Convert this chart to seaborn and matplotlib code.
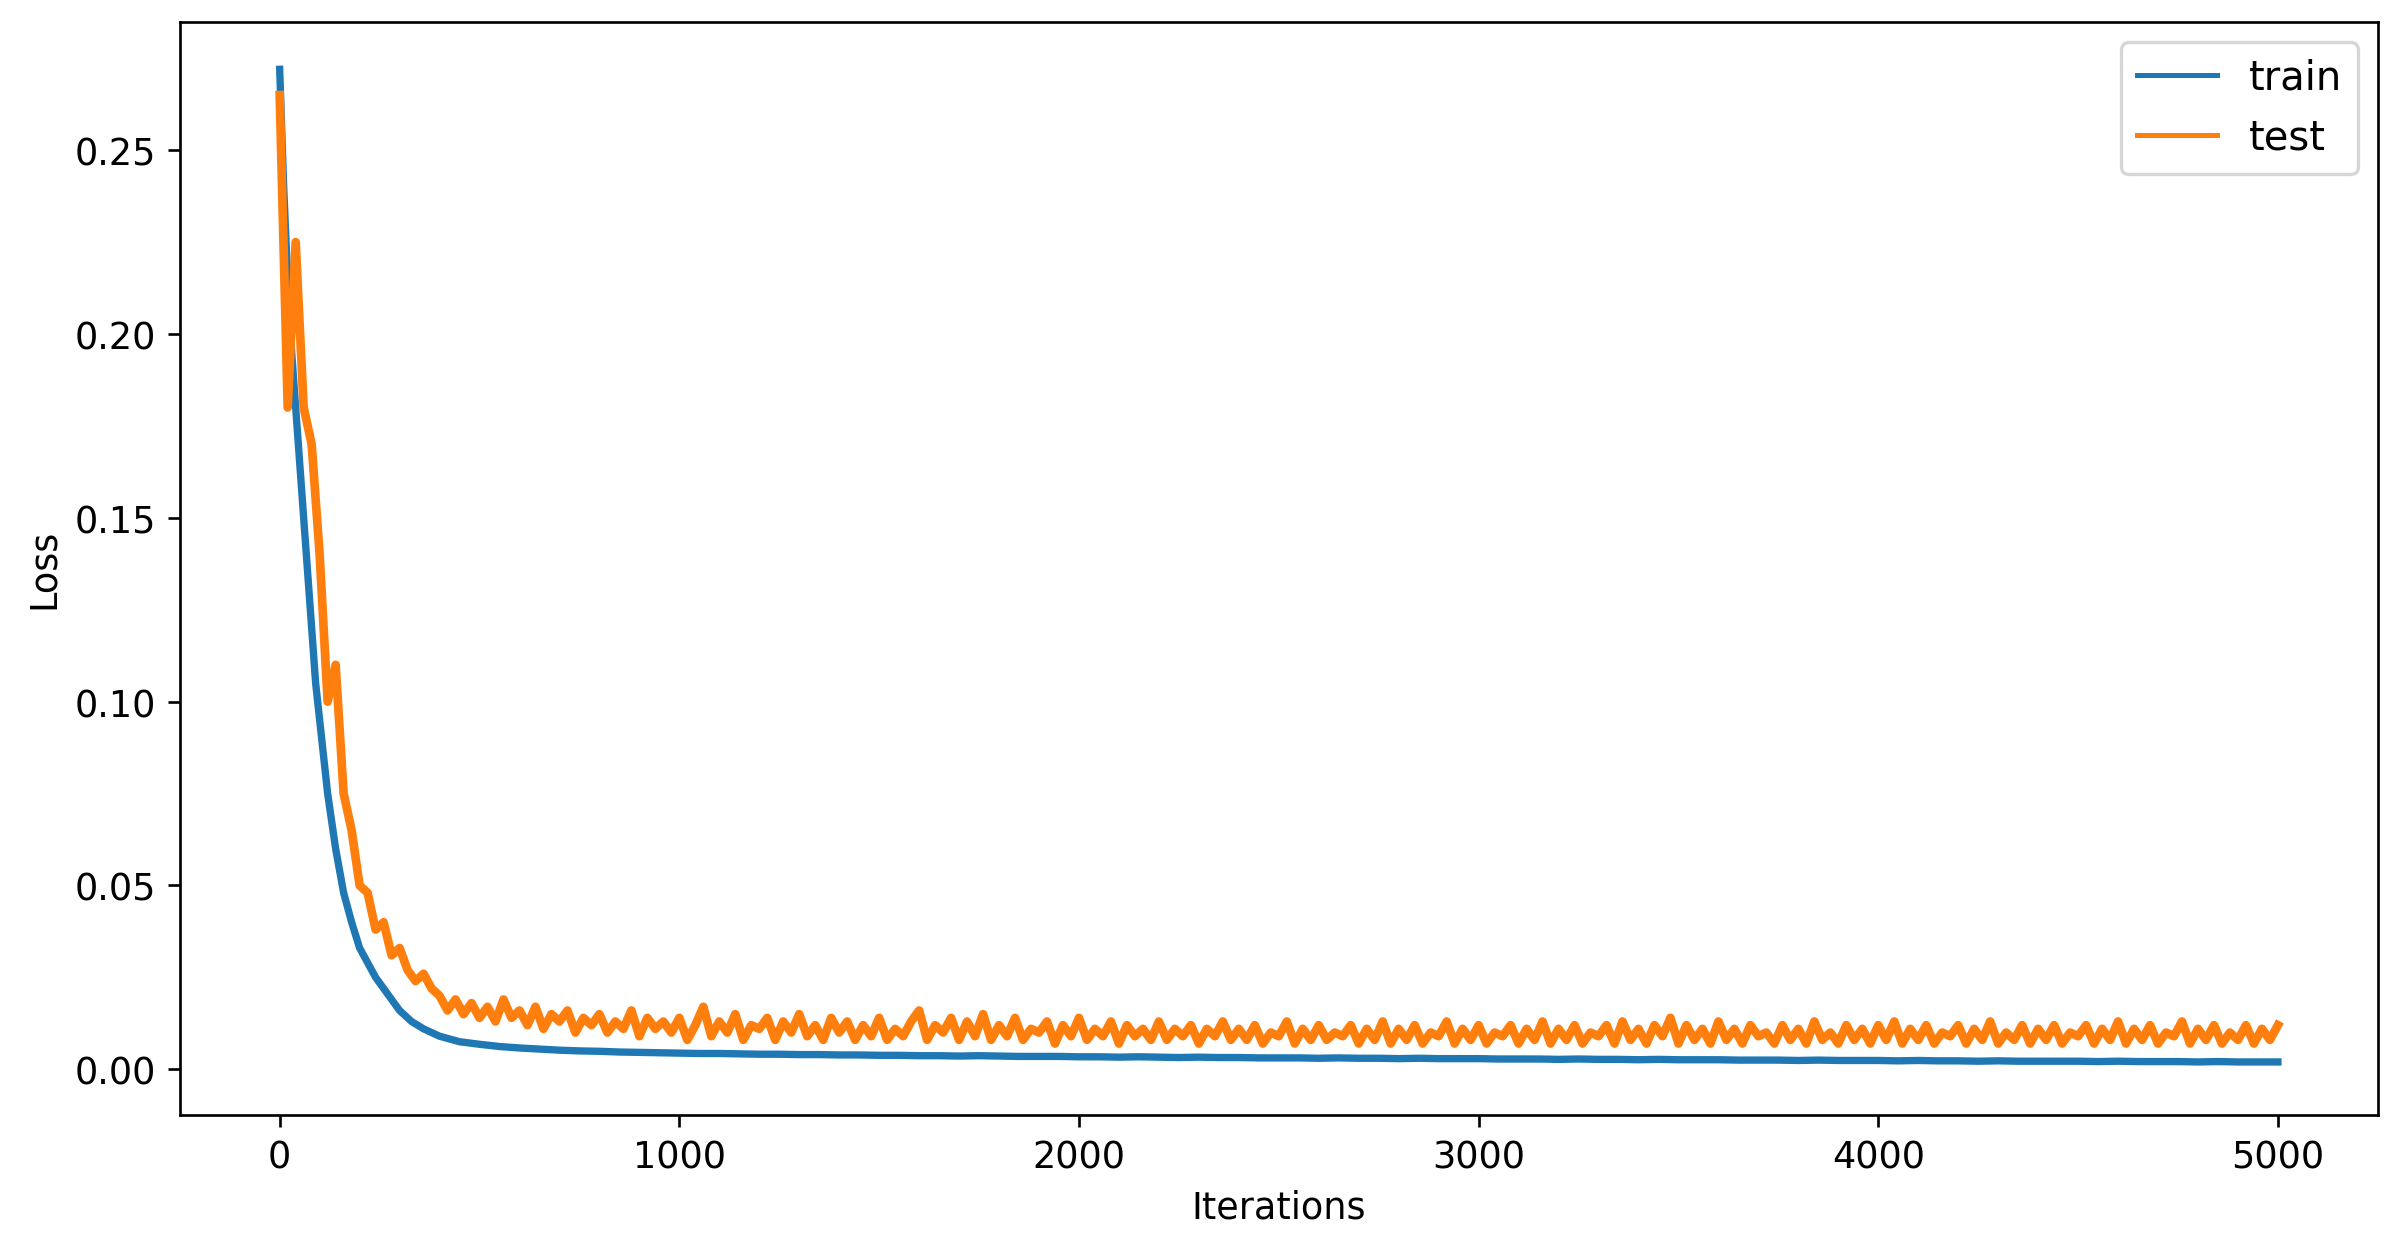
import numpy as np
import pandas as pd
import matplotlib
matplotlib.use("Agg")
import matplotlib.pyplot as plt
import seaborn as sns

# train loss (dense at the start, then every 50 iterations)
train_x = [0, 10, 20, 30, 40, 50, 60, 70, 80, 90, 100, 120, 140, 160, 180, 200, 220, 240,
           260, 280, 300, 330, 360, 400, 450] + list(range(500, 5001, 50))
train_y = [0.272, 0.24, 0.215, 0.195, 0.18, 0.165, 0.15, 0.135, 0.12, 0.105, 0.095, 0.075,
           0.06, 0.048, 0.04, 0.033, 0.029, 0.025, 0.022, 0.019, 0.016, 0.013, 0.011, 0.009, 0.0075,
           0.0068, 0.0062, 0.0058, 0.0055, 0.0052, 0.0050, 0.0049, 0.0047, 0.0046, 0.0045,
           0.0044, 0.0043, 0.0043, 0.0042, 0.0041, 0.0041, 0.0040, 0.0040, 0.0039, 0.0039,
           0.0038, 0.0038, 0.0037, 0.0037, 0.0036, 0.0037, 0.0036, 0.0035, 0.0035, 0.0035,
           0.0034, 0.0034, 0.0033, 0.0034, 0.0033, 0.0032, 0.0033, 0.0032, 0.0032, 0.0031,
           0.0031, 0.0031, 0.0030, 0.0031, 0.0030, 0.0030, 0.0029, 0.0030, 0.0029, 0.0029,
           0.0029, 0.0028, 0.0028, 0.0028, 0.0027, 0.0028, 0.0027, 0.0027, 0.0026, 0.0027,
           0.0026, 0.0026, 0.0026, 0.0025, 0.0025, 0.0025, 0.0024, 0.0025, 0.0024, 0.0024,
           0.0024, 0.0023, 0.0024, 0.0023, 0.0023, 0.0022, 0.0023, 0.0022, 0.0022, 0.0022,
           0.0022, 0.0021, 0.0022, 0.0021, 0.0021, 0.0021, 0.0020, 0.0021, 0.0020, 0.0020,
           0.0020]

# test loss, every 20 iterations
test_x = list(range(0, 5001, 20))
test_y = [0.265, 0.18, 0.225, 0.18, 0.17, 0.14, 0.10, 0.11, 0.075, 0.065,
          0.05, 0.048, 0.038, 0.04, 0.031, 0.033, 0.027, 0.024, 0.026, 0.022,
          0.020, 0.016, 0.019, 0.015, 0.018, 0.014, 0.017, 0.013, 0.019, 0.014,
          0.016, 0.012, 0.017, 0.011, 0.015, 0.013, 0.016, 0.010, 0.014, 0.012,
          0.015, 0.010, 0.013, 0.011, 0.016, 0.009, 0.014, 0.011, 0.013, 0.010,
          0.014, 0.008, 0.012, 0.017, 0.009, 0.013, 0.010, 0.015, 0.008, 0.012,
          0.011, 0.014, 0.008, 0.013, 0.010, 0.015, 0.009, 0.012, 0.008, 0.014,
          0.010, 0.013, 0.008, 0.012, 0.009, 0.014, 0.008, 0.011, 0.009, 0.013,
          0.016, 0.008, 0.012, 0.010, 0.014, 0.008, 0.013, 0.009, 0.015, 0.008,
          0.012, 0.009, 0.014, 0.008, 0.011, 0.010, 0.013, 0.007, 0.012, 0.009,
          0.014, 0.008, 0.011, 0.009, 0.013, 0.007, 0.012, 0.009, 0.011, 0.008,
          0.013, 0.008, 0.011, 0.009, 0.012, 0.007, 0.011, 0.009, 0.013, 0.008,
          0.011, 0.008, 0.012, 0.007, 0.010, 0.009, 0.013, 0.007, 0.011, 0.008,
          0.012, 0.008, 0.010, 0.009, 0.012, 0.007, 0.011, 0.008, 0.013, 0.007,
          0.011, 0.008, 0.012, 0.007, 0.010, 0.009, 0.013, 0.007, 0.011, 0.008,
          0.012, 0.007, 0.010, 0.009, 0.012, 0.007, 0.011, 0.008, 0.013, 0.007,
          0.011, 0.008, 0.012, 0.007, 0.010, 0.009, 0.012, 0.007, 0.013, 0.008,
          0.011, 0.007, 0.012, 0.009, 0.014, 0.007, 0.012, 0.008, 0.011, 0.007,
          0.013, 0.008, 0.011, 0.007, 0.012, 0.009, 0.010, 0.007, 0.012, 0.008,
          0.011, 0.007, 0.013, 0.008, 0.010, 0.007, 0.012, 0.008, 0.011, 0.007,
          0.012, 0.008, 0.013, 0.007, 0.011, 0.008, 0.012, 0.007, 0.010, 0.009,
          0.012, 0.007, 0.011, 0.008, 0.013, 0.007, 0.010, 0.008, 0.012, 0.007,
          0.011, 0.008, 0.012, 0.007, 0.010, 0.009, 0.012, 0.007, 0.011, 0.008,
          0.013, 0.007, 0.011, 0.008, 0.012, 0.007, 0.010, 0.009, 0.013, 0.007,
          0.011, 0.008, 0.012, 0.007, 0.010, 0.008, 0.012, 0.007, 0.011, 0.008,
          0.012]

df_train = pd.DataFrame({"it": train_x, "loss": train_y})
df_test = pd.DataFrame({"it": test_x, "loss": test_y})

fig = plt.figure(figsize=(9.9875, 5.2083), dpi=240)
ax = fig.add_axes([0.075, 0.107, 0.917, 0.875])
sns.lineplot(data=df_train, x="it", y="loss", ax=ax, color="#1f77b4", linewidth=2.2, label="train")
sns.lineplot(data=df_test, x="it", y="loss", ax=ax, color="#ff7f0e", linewidth=2.6, label="test")

ax.set_xlabel("Iterations", fontsize=11)
ax.set_ylabel("Loss", fontsize=11)
ax.tick_params(labelsize=11)
ax.set_xlim(-250, 5250)
ax.set_xticks([0, 1000, 2000, 3000, 4000, 5000])
ax.set_ylim(-0.0125, 0.2850)
ax.set_yticks([0.0, 0.05, 0.10, 0.15, 0.20, 0.25])
ax.set_yticklabels(["0.00", "0.05", "0.10", "0.15", "0.20", "0.25"])
leg = ax.legend(loc="upper right", fontsize=12)
for line in leg.get_lines():
    line.set_linewidth(1.5)

fig.savefig("out.png", dpi=240)
